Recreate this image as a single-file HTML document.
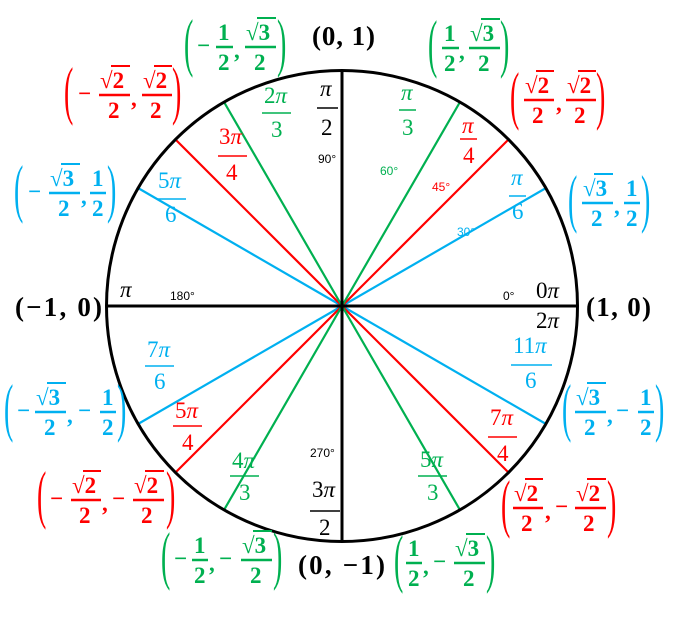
<!DOCTYPE html>
<html><head><meta charset="utf-8"><style>
html,body{margin:0;padding:0;background:#fff;width:681px;height:617px;overflow:hidden}
svg text{font-family:"Liberation Serif",serif}
.b{font-weight:bold;font-size:23px}
.c{font-weight:bold;font-size:27px}
.a{font-size:23px}
.d{font-family:"Liberation Sans",sans-serif!important;font-size:12px}
.p{font-size:28px;font-weight:normal}
</style></head><body>
<svg width="681" height="617" viewBox="0 0 681 617" xmlns="http://www.w3.org/2000/svg">
<g stroke-width="2.2">
<line x1="342" y1="306" x2="546" y2="188" stroke="#00B0F0"/>
<line x1="342" y1="306" x2="138" y2="188" stroke="#00B0F0"/>
<line x1="342" y1="306" x2="138" y2="424" stroke="#00B0F0"/>
<line x1="342" y1="306" x2="546" y2="424" stroke="#00B0F0"/>
<line x1="342" y1="306" x2="509" y2="139" stroke="#FF0000"/>
<line x1="342" y1="306" x2="175" y2="139" stroke="#FF0000"/>
<line x1="342" y1="306" x2="175" y2="473" stroke="#FF0000"/>
<line x1="342" y1="306" x2="509" y2="473" stroke="#FF0000"/>
<line x1="342" y1="306" x2="460" y2="102" stroke="#00B050"/>
<line x1="342" y1="306" x2="224" y2="102" stroke="#00B050"/>
<line x1="342" y1="306" x2="224" y2="510" stroke="#00B050"/>
<line x1="342" y1="306" x2="460" y2="510" stroke="#00B050"/>
</g>
<line x1="106" y1="306" x2="578" y2="306" stroke="#000" stroke-width="3"/>
<line x1="342" y1="70" x2="342" y2="541" stroke="#000" stroke-width="3"/>
<circle cx="342" cy="306" r="235.5" fill="none" stroke="#000" stroke-width="3"/>

<text class="c" x="312" y="45" textLength="63" lengthAdjust="spacing">(0, 1)</text>
<text class="c" x="586" y="316" textLength="65" lengthAdjust="spacing">(1, 0)</text>
<text class="c" x="15" y="316" textLength="87" lengthAdjust="spacing">(−1, 0)</text>
<text class="c" x="298" y="574" textLength="87" lengthAdjust="spacing">(0, −1)</text>

<g fill="#000">
<text class="a" x="320" y="96" font-style="italic">π</text>
<line x1="317" y1="108" x2="338" y2="108" stroke="#000" stroke-width="1.5"/>
<text class="a" x="321" y="135">2</text>
<text class="d" x="318" y="163">90°</text>
<text class="a" x="120" y="297" font-style="italic">π</text>
<text class="d" x="170" y="300">180°</text>
<text class="d" x="503" y="300">0°</text>
<text class="a" x="536" y="298">0<tspan font-style="italic">π</tspan></text>
<text class="a" x="536" y="328">2<tspan font-style="italic">π</tspan></text>
<text class="d" x="310" y="457">270°</text>
<text class="a" x="312" y="497">3<tspan font-style="italic">π</tspan></text>
<line x1="310" y1="511" x2="340" y2="511" stroke="#000" stroke-width="1.5"/>
<text class="a" x="319" y="535">2</text>
</g>

<g fill="#00B050" stroke="none">
<text class="a" x="401" y="100" font-style="italic">π</text>
<line x1="399" y1="110" x2="416" y2="110" stroke="#00B050" stroke-width="1.5"/>
<text class="a" x="402" y="135">3</text>
<text class="d" x="380" y="175">60°</text>
<text class="a" x="264" y="103">2<tspan font-style="italic">π</tspan></text>
<line x1="262" y1="113" x2="291" y2="113" stroke="#00B050" stroke-width="1.5"/>
<text class="a" x="271" y="137">3</text>
<text class="a" x="232" y="468">4<tspan font-style="italic">π</tspan></text>
<line x1="230" y1="476" x2="259" y2="476" stroke="#00B050" stroke-width="1.5"/>
<text class="a" x="239" y="500">3</text>
<text class="a" x="420" y="467">5<tspan font-style="italic">π</tspan></text>
<line x1="418" y1="476" x2="447" y2="476" stroke="#00B050" stroke-width="1.5"/>
<text class="a" x="427" y="500">3</text>
</g>
<g fill="#FF0000">
<text class="a" x="462" y="133" font-style="italic">π</text>
<line x1="460" y1="139" x2="477" y2="139" stroke="#FF0000" stroke-width="1.5"/>
<text class="a" x="463" y="163">4</text>
<text class="d" x="432" y="191">45°</text>
<text class="a" x="219" y="144">3<tspan font-style="italic">π</tspan></text>
<line x1="218" y1="156" x2="247" y2="156" stroke="#FF0000" stroke-width="1.5"/>
<text class="a" x="226" y="180">4</text>
<text class="a" x="175" y="418">5<tspan font-style="italic">π</tspan></text>
<line x1="173" y1="426" x2="202" y2="426" stroke="#FF0000" stroke-width="1.5"/>
<text class="a" x="182" y="450">4</text>
<text class="a" x="490" y="425">7<tspan font-style="italic">π</tspan></text>
<line x1="488" y1="437" x2="517" y2="437" stroke="#FF0000" stroke-width="1.5"/>
<text class="a" x="497" y="461">4</text>
</g>
<g fill="#00B0F0">
<text class="a" x="511" y="185" font-style="italic">π</text>
<line x1="509" y1="196" x2="526" y2="196" stroke="#00B0F0" stroke-width="1.5"/>
<text class="a" x="512" y="219">6</text>
<text class="d" x="457" y="236">30°</text>
<text class="a" x="158" y="188">5<tspan font-style="italic">π</tspan></text>
<line x1="157" y1="199" x2="186" y2="199" stroke="#00B0F0" stroke-width="1.5"/>
<text class="a" x="165" y="222">6</text>
<text class="a" x="147" y="357">7<tspan font-style="italic">π</tspan></text>
<line x1="145" y1="366" x2="174" y2="366" stroke="#00B0F0" stroke-width="1.5"/>
<text class="a" x="154" y="389">6</text>
<text class="a" x="513" y="353">11<tspan font-style="italic">π</tspan></text>
<line x1="511" y1="365" x2="552" y2="365" stroke="#00B0F0" stroke-width="1.5"/>
<text class="a" x="525" y="388">6</text>
</g>

<g fill="#00B050">
<text class="p" transform="translate(184,64) scale(1,2.3)">(</text>
<text class="b" x="197" y="53">−</text>
<text class="b" x="218" y="40">1</text><line x1="216" y1="47" x2="233" y2="47" stroke="#00B050" stroke-width="2.5"/><text class="b" x="218" y="70">2</text>
<text class="b" x="234" y="58">,</text>
<text class="b" x="246" y="40">√3</text><line x1="245" y1="47" x2="276" y2="47" stroke="#00B050" stroke-width="2.5"/><line x1="257" y1="18" x2="276" y2="18" stroke="#00B050" stroke-width="2"/><text class="b" x="254" y="70">2</text>
<text class="p" transform="translate(277,64) scale(1,2.3)">)</text>
</g>
<g fill="#00B050">
<text class="p" transform="translate(428,65) scale(1,2.3)">(</text>
<text class="b" x="444" y="41">1</text><line x1="442" y1="48" x2="459" y2="48" stroke="#00B050" stroke-width="2.5"/><text class="b" x="444" y="71">2</text>
<text class="b" x="459" y="59">,</text>
<text class="b" x="470" y="41">√3</text><line x1="469" y1="48" x2="500" y2="48" stroke="#00B050" stroke-width="2.5"/><line x1="481" y1="19" x2="500" y2="19" stroke="#00B050" stroke-width="2"/><text class="b" x="478" y="71">2</text>
<text class="p" transform="translate(500,65) scale(1,2.3)">)</text>
</g>
<g fill="#FF0000">
<text class="p" transform="translate(64,112) scale(1,2.3)">(</text>
<text class="b" x="78" y="101">−</text>
<text class="b" x="100" y="88">√2</text><line x1="99" y1="95" x2="130" y2="95" stroke="#FF0000" stroke-width="2.5"/><line x1="111" y1="66" x2="130" y2="66" stroke="#FF0000" stroke-width="2"/><text class="b" x="108" y="118">2</text>
<text class="b" x="131" y="106">,</text>
<text class="b" x="143" y="88">√2</text><line x1="142" y1="95" x2="172" y2="95" stroke="#FF0000" stroke-width="2.5"/><line x1="154" y1="66" x2="172" y2="66" stroke="#FF0000" stroke-width="2"/><text class="b" x="150" y="118">2</text>
<text class="p" transform="translate(172,112) scale(1,2.3)">)</text>
</g>
<g fill="#FF0000">
<text class="p" transform="translate(510,117) scale(1,2.3)">(</text>
<text class="b" x="525" y="93">√2</text><line x1="524" y1="100" x2="554" y2="100" stroke="#FF0000" stroke-width="2.5"/><line x1="536" y1="71" x2="554" y2="71" stroke="#FF0000" stroke-width="2"/><text class="b" x="532" y="123">2</text>
<text class="b" x="556" y="111">,</text>
<text class="b" x="567" y="93">√2</text><line x1="566" y1="100" x2="596" y2="100" stroke="#FF0000" stroke-width="2.5"/><line x1="578" y1="71" x2="596" y2="71" stroke="#FF0000" stroke-width="2"/><text class="b" x="574" y="123">2</text>
<text class="p" transform="translate(596,117) scale(1,2.3)">)</text>
</g>
<g fill="#00B0F0">
<text class="p" transform="translate(14,210) scale(1,2.3)">(</text>
<text class="b" x="28" y="199">−</text>
<text class="b" x="50" y="186">√3</text><line x1="49" y1="193" x2="80" y2="193" stroke="#00B0F0" stroke-width="2.5"/><line x1="61" y1="164" x2="80" y2="164" stroke="#00B0F0" stroke-width="2"/><text class="b" x="58" y="216">2</text>
<text class="b" x="81" y="204">,</text>
<text class="b" x="92" y="186">1</text><line x1="90" y1="193" x2="106" y2="193" stroke="#00B0F0" stroke-width="2.5"/><text class="b" x="92" y="216">2</text>
<text class="p" transform="translate(107,210) scale(1,2.3)">)</text>
</g>
<g fill="#00B0F0">
<text class="p" transform="translate(568,220) scale(1,2.3)">(</text>
<text class="b" x="583" y="196">√3</text><line x1="582" y1="203" x2="613" y2="203" stroke="#00B0F0" stroke-width="2.5"/><line x1="594" y1="174" x2="613" y2="174" stroke="#00B0F0" stroke-width="2"/><text class="b" x="591" y="226">2</text>
<text class="b" x="614" y="214">,</text>
<text class="b" x="626" y="196">1</text><line x1="624" y1="203" x2="640" y2="203" stroke="#00B0F0" stroke-width="2.5"/><text class="b" x="626" y="226">2</text>
<text class="p" transform="translate(641,220) scale(1,2.3)">)</text>
</g>
<g fill="#00B0F0">
<text class="p" transform="translate(4,429) scale(1,2.3)">(</text>
<text class="b" x="17" y="418">−</text>
<text class="b" x="36" y="405">√3</text><line x1="35" y1="412" x2="66" y2="412" stroke="#00B0F0" stroke-width="2.5"/><line x1="47" y1="383" x2="66" y2="383" stroke="#00B0F0" stroke-width="2"/><text class="b" x="44" y="435">2</text>
<text class="b" x="67" y="423">,</text>
<text class="b" x="78" y="418">−</text>
<text class="b" x="102" y="405">1</text><line x1="100" y1="412" x2="116" y2="412" stroke="#00B0F0" stroke-width="2.5"/><text class="b" x="102" y="435">2</text>
<text class="p" transform="translate(117,429) scale(1,2.3)">)</text>
</g>
<g fill="#00B0F0">
<text class="p" transform="translate(562,429) scale(1,2.3)">(</text>
<text class="b" x="576" y="405">√3</text><line x1="575" y1="412" x2="606" y2="412" stroke="#00B0F0" stroke-width="2.5"/><line x1="587" y1="383" x2="606" y2="383" stroke="#00B0F0" stroke-width="2"/><text class="b" x="584" y="435">2</text>
<text class="b" x="607" y="423">,</text>
<text class="b" x="616" y="418">−</text>
<text class="b" x="640" y="405">1</text><line x1="638" y1="412" x2="654" y2="412" stroke="#00B0F0" stroke-width="2.5"/><text class="b" x="640" y="435">2</text>
<text class="p" transform="translate(655,429) scale(1,2.3)">)</text>
</g>
<g fill="#FF0000">
<text class="p" transform="translate(37,516) scale(1,2.3)">(</text>
<text class="b" x="50" y="506">−</text>
<text class="b" x="72" y="493">√2</text><line x1="71" y1="500" x2="101" y2="500" stroke="#FF0000" stroke-width="2.5"/><line x1="83" y1="471" x2="101" y2="471" stroke="#FF0000" stroke-width="2"/><text class="b" x="79" y="523">2</text>
<text class="b" x="102" y="511">,</text>
<text class="b" x="112" y="506">−</text>
<text class="b" x="134" y="493">√2</text><line x1="133" y1="500" x2="164" y2="500" stroke="#FF0000" stroke-width="2.5"/><line x1="145" y1="471" x2="164" y2="471" stroke="#FF0000" stroke-width="2"/><text class="b" x="141" y="523">2</text>
<text class="p" transform="translate(166,516) scale(1,2.3)">)</text>
</g>
<g fill="#FF0000">
<text class="p" transform="translate(501,525) scale(1,2.3)">(</text>
<text class="b" x="514" y="501">√2</text><line x1="513" y1="508" x2="543" y2="508" stroke="#FF0000" stroke-width="2.5"/><line x1="525" y1="479" x2="543" y2="479" stroke="#FF0000" stroke-width="2"/><text class="b" x="521" y="531">2</text>
<text class="b" x="545" y="519">,</text>
<text class="b" x="555" y="514">−</text>
<text class="b" x="576" y="501">√2</text><line x1="575" y1="508" x2="606" y2="508" stroke="#FF0000" stroke-width="2.5"/><line x1="587" y1="479" x2="606" y2="479" stroke="#FF0000" stroke-width="2"/><text class="b" x="583" y="531">2</text>
<text class="p" transform="translate(607,525) scale(1,2.3)">)</text>
</g>
<g fill="#00B050">
<text class="p" transform="translate(161,577) scale(1,2.3)">(</text>
<text class="b" x="174" y="566">−</text>
<text class="b" x="194" y="553">1</text><line x1="192" y1="560" x2="208" y2="560" stroke="#00B050" stroke-width="2.5"/><text class="b" x="194" y="583">2</text>
<text class="b" x="209" y="571">,</text>
<text class="b" x="219" y="566">−</text>
<text class="b" x="242" y="553">√3</text><line x1="241" y1="560" x2="272" y2="560" stroke="#00B050" stroke-width="2.5"/><line x1="253" y1="531" x2="272" y2="531" stroke="#00B050" stroke-width="2"/><text class="b" x="250" y="583">2</text>
<text class="p" transform="translate(273,577) scale(1,2.3)">)</text>
</g>
<g fill="#00B050">
<text class="p" transform="translate(394,580) scale(1,2.3)">(</text>
<text class="b" x="408" y="556">1</text><line x1="406" y1="563" x2="422" y2="563" stroke="#00B050" stroke-width="2.5"/><text class="b" x="408" y="586">2</text>
<text class="b" x="423" y="574">,</text>
<text class="b" x="433" y="569">−</text>
<text class="b" x="455" y="556">√3</text><line x1="454" y1="563" x2="485" y2="563" stroke="#00B050" stroke-width="2.5"/><line x1="466" y1="534" x2="485" y2="534" stroke="#00B050" stroke-width="2"/><text class="b" x="463" y="586">2</text>
<text class="p" transform="translate(486,580) scale(1,2.3)">)</text>
</g>
</svg>
</body></html>
